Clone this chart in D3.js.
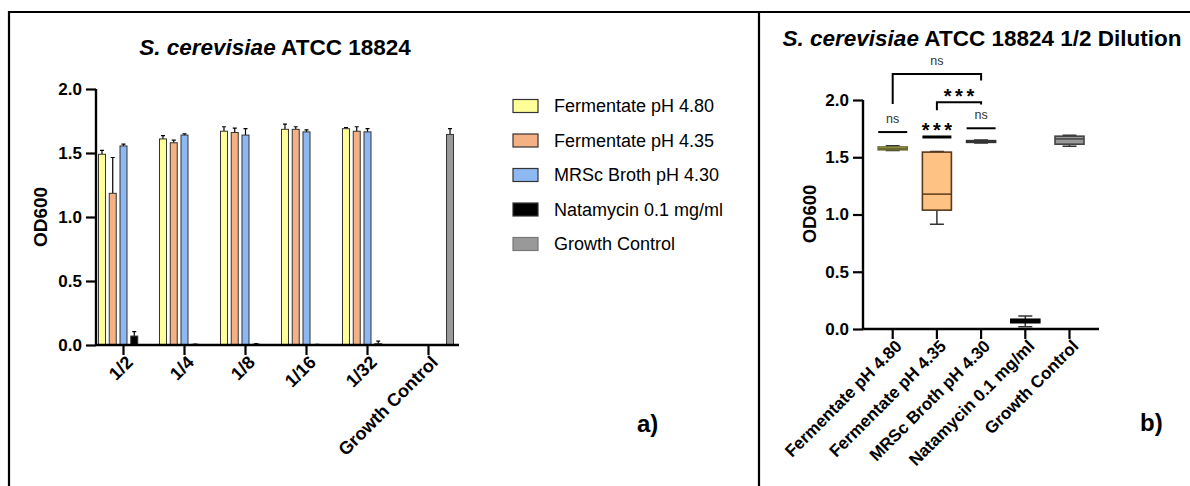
<!DOCTYPE html>
<html>
<head>
<meta charset="utf-8">
<script src="https://cdn.jsdelivr.net/npm/d3@7"></script>
<style>
  body { margin: 0; background: #fff; }
  svg { display: block; font-family: "Liberation Sans", Arial, sans-serif; }
</style>
</head>
<body>
<svg></svg>
<script>
// ---- panel a) grouped bars ----
let dilutions = ["1/2", "1/4", "1/8", "1/16", "1/32", "Growth Control"];
let treatments = ["Fermentate pH 4.80", "Fermentate pH 4.35", "MRSc Broth pH 4.30", "Natamycin 0.1 mg/ml", "Growth Control"];
let fills = ["#FFFF99", "#F4B183", "#8EB8F2", "#000000", "#999999"];

// mean OD600 per treatment for each dilution (null = not in that group)
let ferm480 = [1.49, 1.61, 1.67, 1.685, 1.69, null];
let ferm435 = [1.185, 1.58, 1.66, 1.685, 1.67, null];
let mrsc430 = [1.555, 1.64, 1.64, 1.665, 1.665, null];
let natamycin = [0.07, 0.005, 0.006, 0.004, 0.01, null];
let growth = [null, null, null, null, null, 1.645];
// upper error (SD)
let ferm480Err = [0.03, 0.025, 0.035, 0.04, 0.008, null];
let ferm435Err = [0.28, 0.02, 0.035, 0.02, 0.035, null];
let mrsc430Err = [0.015, 0.01, 0.05, 0.015, 0.025, null];
let natamycinErr = [0.035, 0.003, 0.004, 0.002, 0.02, null];
let growthErr = [null, null, null, null, null, 0.045];

// ---- panel b) box plot, 1/2 dilution ----
let boxMin = [1.56, 0.915, 1.625, 0.02, 1.597];
let boxQ1 = [1.565, 1.038, 1.63, 0.055, 1.614];
let boxMed = [1.575, 1.178, 1.635, 0.07, 1.66];
let boxQ3 = [1.59, 1.545, 1.645, 0.085, 1.684];
let boxMax = [1.60, 1.55, 1.65, 0.113, 1.693];

// significance marks (value units), index into treatments
let sigLines = [
  { at: 0, y: 1.72, label: "ns" },
  { at: 1, y: 1.677, label: "***" },
  { at: 2, y: 1.753, label: "ns" },
];
let sigBrackets = [
  { from: 1, to: 2, y: 1.98, yA: 1.91, yB: 1.96, label: "***" },
  { from: 0, to: 2, y: 2.227, yA: 1.965, yB: 2.17, label: "ns" },
];

let yTicks = [0, 0.5, 1.0, 1.5, 2.0];

let width = 1190;
let height = 486;
let svg = d3.select("svg").attr("width", width).attr("height", height);

// frame
svg.append("path")
  .attr("d", `M9,486 V12 H1190 M759,12 V486`)
  .style("fill", "none")
  .style("stroke", "#000")
  .style("stroke-width", 2.2);

// ================= panel a =================
let seriesVals = [ferm480, ferm435, mrsc430, natamycin, growth];
let seriesErr = [ferm480Err, ferm435Err, mrsc430Err, natamycinErr, growthErr];

let yA = d3.scaleLinear().domain([0, 2]).range([345, 89]);
let xA = d3.scaleBand().domain(dilutions).range([93, 459]);
let xSlot = d3.scaleBand().domain(treatments).range([-26.9, 26.9]).paddingInner(0.35).paddingOuter(0.175);

let gA = svg.append("g");

// title
let tA = gA.append("text")
  .attr("x", 275).attr("y", 55)
  .attr("text-anchor", "middle")
  .style("font-size", "22.5px").style("font-weight", "bold");
tA.append("tspan").style("font-style", "italic").text("S. cerevisiae");
tA.append("tspan").text(" ATCC 18824");

// bars
let barData = [];
seriesVals.forEach((vals, si) => {
  vals.forEach((v, di) => {
    if (v != null) barData.push({ t: treatments[si], d: dilutions[di], v: v, e: seriesErr[si][di], c: fills[si] });
  });
});

let bx = (d) => xA(d.d) + xA.bandwidth() / 2 + xSlot(d.t);

// error bars first (upward only)
gA.append("g")
  .selectAll("path")
  .data(barData)
  .join("path")
  .attr("d", (d) => {
    let cx = bx(d) + xSlot.bandwidth() / 2;
    let top = yA(d.v + d.e);
    return `M${cx},${yA(d.v)} V${top} M${cx - 2},${top} H${cx + 2}`;
  })
  .style("fill", "none")
  .style("stroke", "#000")
  .style("stroke-width", 1.2);

gA.append("g")
  .selectAll("rect")
  .data(barData)
  .join("rect")
  .attr("x", bx)
  .attr("width", xSlot.bandwidth())
  .attr("y", (d) => yA(d.v))
  .attr("height", (d) => yA(0) - yA(d.v))
  .style("fill", (d) => d.c)
  .style("stroke", "#333")
  .style("stroke-width", 1);

// y axis
let yAxisA = gA.append("g")
  .attr("transform", "translate(96,0)")
  .call(d3.axisLeft(yA).tickValues(yTicks).tickFormat(d3.format(".1f")).tickSize(10).tickPadding(4));
yAxisA.select(".domain").attr("d", `M0,${yA(0)} V${yA(2)}`);

// x axis
let xAxisA = gA.append("g")
  .attr("transform", `translate(0,${yA(0)})`)
  .call(d3.axisBottom(xA).tickSize(10).tickSizeOuter(0));
xAxisA.select(".domain").attr("d", `M96,0 H459`);
xAxisA.selectAll(".tick text")
  .attr("text-anchor", "end")
  .attr("transform", "translate(6,14) rotate(-45)")
  .attr("dy", "0.35em")
  .attr("y", 0);

[yAxisA, xAxisA].forEach((ax) => {
  ax.selectAll(".domain").style("stroke-width", 2.4).style("stroke", "#000");
  ax.selectAll(".tick line").style("stroke-width", 2.2).style("stroke", "#000");
  ax.selectAll(".tick text").style("font-weight", "bold")
    .style("font-family", "'Liberation Sans', Arial, sans-serif").style("fill", "#000");
});
yAxisA.selectAll(".tick text").style("font-size", "17px");
xAxisA.selectAll(".tick text").style("font-size", "18px");

gA.append("text")
  .attr("transform", `translate(47,217) rotate(-90)`)
  .attr("text-anchor", "middle")
  .style("font-size", "19px").style("font-weight", "bold")
  .text("OD600");

// legend
let legend = gA.append("g")
  .selectAll("g")
  .data(treatments)
  .join("g")
  .attr("transform", (d, i) => `translate(513,${106 + i * 34.5})`);
legend.append("rect")
  .attr("x", 0).attr("y", -6.5).attr("width", 25).attr("height", 13)
  .style("fill", (d, i) => fills[i])
  .style("stroke", (d, i) => (i == 4 ? "#777" : "#333"))
  .style("stroke-width", 1.2);
legend.append("text")
  .attr("x", 41).attr("y", 0).attr("dy", "0.35em")
  .style("font-size", "18px")
  .text((d) => d);

gA.append("text")
  .attr("x", 637).attr("y", 432)
  .style("font-size", "24px").style("font-weight", "bold")
  .text("a)");

// ================= panel b =================
let yB = d3.scaleLinear().domain([0, 2]).range([329, 100]);
let xB = d3.scaleBand().domain(treatments).range([870.6, 1091.6]);
let bw = 29;
let boxFill = ["#FFFF99", "#FFC285", "#9DC3E6", "#000000", "#999999"];
let boxStroke = ["#6b6b30", "#5a3a1a", "#333333", "#000000", "#444444"];

let gB = svg.append("g");

let tB = gB.append("text")
  .attr("x", 982).attr("y", 46)
  .attr("text-anchor", "middle")
  .style("font-size", "22.5px").style("font-weight", "bold");
tB.append("tspan").style("font-style", "italic").text("S. cerevisiae");
tB.append("tspan").text(" ATCC 18824 1/2 Dilution");

let boxes = treatments.map((t, i) => ({
  t: t, min: boxMin[i], q1: boxQ1[i], med: boxMed[i], q3: boxQ3[i], max: boxMax[i],
  fill: boxFill[i], stroke: boxStroke[i],
}));
let cxB = (t) => xB(t) + xB.bandwidth() / 2;

// whiskers
gB.append("g")
  .selectAll("path")
  .data(boxes)
  .join("path")
  .attr("d", (d) => {
    let c = cxB(d.t);
    return `M${c},${yB(d.max)} V${yB(d.q3)} M${c},${yB(d.q1)} V${yB(d.min)}` +
      ` M${c - 7},${yB(d.max)} H${c + 7} M${c - 7},${yB(d.min)} H${c + 7}`;
  })
  .style("fill", "none")
  .style("stroke", "#333")
  .style("stroke-width", 1.5);

gB.append("g")
  .selectAll("rect")
  .data(boxes)
  .join("rect")
  .attr("x", (d) => cxB(d.t) - bw / 2)
  .attr("width", bw)
  .attr("y", (d) => yB(d.q3))
  .attr("height", (d) => yB(d.q1) - yB(d.q3))
  .style("fill", (d) => d.fill)
  .style("stroke", (d) => d.stroke)
  .style("stroke-width", 1.6);

gB.append("g")
  .selectAll("line")
  .data(boxes)
  .join("line")
  .attr("x1", (d) => cxB(d.t) - bw / 2)
  .attr("x2", (d) => cxB(d.t) + bw / 2)
  .attr("y1", (d) => yB(d.med))
  .attr("y2", (d) => yB(d.med))
  .style("stroke", (d) => d.stroke)
  .style("stroke-width", 1.5);

// axes
let yAxisB = gB.append("g")
  .attr("transform", "translate(863,0)")
  .call(d3.axisLeft(yB).tickValues(yTicks).tickFormat(d3.format(".1f")).tickSize(10).tickPadding(4));
yAxisB.select(".domain").attr("d", `M0,${yB(0)} V${yB(2)}`);

let xAxisB = gB.append("g")
  .attr("transform", `translate(0,${yB(0)})`)
  .call(d3.axisBottom(xB).tickSize(10).tickSizeOuter(0));
xAxisB.select(".domain").attr("d", `M863,0 H1099`);
xAxisB.selectAll(".tick text")
  .attr("text-anchor", "end")
  .attr("transform", "translate(6,14) rotate(-45)")
  .attr("dy", "0.35em")
  .attr("y", 0);

[yAxisB, xAxisB].forEach((ax) => {
  ax.selectAll(".domain").style("stroke-width", 2.4).style("stroke", "#000");
  ax.selectAll(".tick line").style("stroke-width", 2.2).style("stroke", "#000");
  ax.selectAll(".tick text").style("font-weight", "bold")
    .style("font-family", "'Liberation Sans', Arial, sans-serif").style("fill", "#000");
});
yAxisB.selectAll(".tick text").style("font-size", "17px");
xAxisB.selectAll(".tick text").style("font-size", "17px");

gB.append("text")
  .attr("transform", `translate(816,214) rotate(-90)`)
  .attr("text-anchor", "middle")
  .style("font-size", "18.5px").style("font-weight", "bold")
  .text("OD600");

// significance
function sigText(g, x, yLine, label) {
  let star = label != "ns";
  g.append("text")
    .attr("x", star ? x + 1.75 : x)
    .attr("y", star ? yLine + 0.5 : yLine - 9)
    .attr("text-anchor", "middle")
    .style("font-size", star ? "20px" : "12.5px")
    .style("font-weight", star ? "bold" : "normal")
    .style("letter-spacing", star ? "3.5px" : "0px")
    .style("fill", star ? "#000" : "#333")
    .text(label);
}

sigLines.forEach((s) => {
  let c = cxB(treatments[s.at]);
  let y = yB(s.y);
  gB.append("line")
    .attr("x1", c - bw / 2).attr("x2", c + bw / 2)
    .attr("y1", y).attr("y2", y)
    .style("stroke", "#000")
    .style("stroke-width", s.label == "ns" ? 2 : 3);
  sigText(gB, c, y, s.label);
});

sigBrackets.forEach((s) => {
  let a = cxB(treatments[s.from]);
  let b = cxB(treatments[s.to]);
  let y = yB(s.y);
  gB.append("path")
    .attr("d", `M${a},${yB(s.yA)} V${y} H${b} V${yB(s.yB)}`)
    .style("fill", "none")
    .style("stroke", "#000")
    .style("stroke-width", 2);
  sigText(gB, (a + b) / 2, y, s.label);
});

gB.append("text")
  .attr("x", 1140).attr("y", 431)
  .style("font-size", "24px").style("font-weight", "bold")
  .text("b)");
</script>
</body>
</html>
